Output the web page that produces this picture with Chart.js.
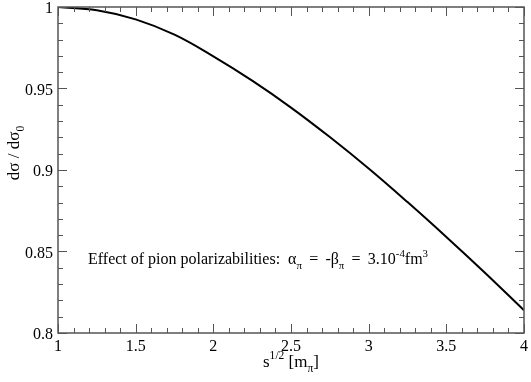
<!DOCTYPE html>
<html lang="en">
  <head>
    <meta charset="UTF-8" />
    <title>Pion polarizability effect</title>
    <script src="https://cdn.jsdelivr.net/npm/chart.js@4.4.0/dist/chart.umd.min.js"></script>
    <style>
      body { margin: 0; background: #fff; }
      .wrap { width: 531px; height: 382px; }
    </style>
  </head>
  <body>
    <div class="wrap"><canvas id="ratioChart"></canvas></div>

    <script>
      // values
      const sqrtS = [1, 1.25, 1.5, 1.75, 2, 2.25, 2.5, 2.75, 3, 3.25, 3.5, 3.75, 4];
      const ratio = [1, 0.998, 0.9924, 0.983, 0.9697, 0.9548, 0.9383, 0.9202, 0.9009, 0.8803, 0.8589, 0.8368, 0.8139];
      const xTicks = [1, 1.5, 2, 2.5, 3, 3.5, 4];
      const yTicks = [0.8, 0.85, 0.9, 0.95, 1];

      const serif = "'Liberation Serif', 'Times New Roman', serif";
      const axisColor = "#555";

      // text pieces with sub/superscripts, drawn left to right from (x, y)
      function richWidth(ctx, parts, size) {
        let w = 0;
        parts.forEach((p) => {
          ctx.font = (p.s ? size * 0.68 : size) + "px " + serif;
          w += ctx.measureText(p.t).width;
        });
        return w;
      }
      function drawRich(ctx, parts, x, y, size) {
        parts.forEach((p) => {
          const fs = p.s ? size * 0.68 : size;
          ctx.font = fs + "px " + serif;
          let dy = 0;
          if (p.s === "sub") dy = size * 0.3;
          if (p.s === "sup") dy = -size * 0.45;
          ctx.fillText(p.t, x, y + dy);
          x += ctx.measureText(p.t).width;
        });
      }

      const note = [
        { t: "Effect of pion polarizabilities:  α" },
        { t: "π", s: "sub" },
        { t: " \u2009=\u2009 -β" },
        { t: "π", s: "sub" },
        { t: " \u2009=\u2009 3.10" },
        { t: "-4", s: "sup" },
        { t: "fm" },
        { t: "3", s: "sup" },
      ];
      const xTitle = [{ t: "s" }, { t: "1/2", s: "sup" }, { t: " [m" }, { t: "π", s: "sub" }, { t: "]" }];
      const yTitle = [{ t: "dσ / dσ" }, { t: "0", s: "sub" }];

      const framePlugin = {
        id: "framePlugin",
        afterDraw(chart) {
          const { ctx, chartArea: a, scales } = chart;
          const sx = scales.x, sy = scales.y;
          ctx.save();
          ctx.strokeStyle = axisColor;
          ctx.lineWidth = 1.5;
          ctx.strokeRect(a.left, a.top, a.right - a.left, a.bottom - a.top);

          // inward ticks on all four sides, minor every 0.1 / 0.01
          ctx.lineWidth = 1;
          ctx.beginPath();
          for (let i = 0; i <= 30; i++) {
            const px = Math.round(sx.getPixelForValue(1 + i * 0.1)) + 0.5;
            const len = i % 5 === 0 ? 9 : 5;
            ctx.moveTo(px, a.bottom); ctx.lineTo(px, a.bottom - len);
            ctx.moveTo(px, a.top); ctx.lineTo(px, a.top + len);
          }
          for (let i = 0; i <= 20; i++) {
            const py = Math.round(sy.getPixelForValue(0.8 + i * 0.01)) + 0.5;
            const len = i % 5 === 0 ? 9 : 5;
            ctx.moveTo(a.left, py); ctx.lineTo(a.left + len, py);
            ctx.moveTo(a.right, py); ctx.lineTo(a.right - len, py);
          }
          ctx.stroke();

          ctx.fillStyle = "#000";
          ctx.textBaseline = "alphabetic";
          ctx.textAlign = "left";

          // annotation
          drawRich(ctx, note, 88, 264, 16);

          // x title
          const cx = (a.left + a.right) / 2;
          const w = richWidth(ctx, xTitle, 17);
          drawRich(ctx, xTitle, cx - w / 2, 367, 17);

          // y title, rotated
          const wy = richWidth(ctx, yTitle, 17);
          ctx.translate(19, 153);
          ctx.rotate(-Math.PI / 2);
          drawRich(ctx, yTitle, -wy / 2, 0, 17);
          ctx.restore();
        },
      };

      new Chart(document.getElementById("ratioChart"), {
        type: "line",
        data: {
          datasets: [
            {
              data: sqrtS.map((v, i) => ({ x: v, y: ratio[i] })),
              borderColor: "#000",
              borderWidth: 2,
              pointRadius: 0,
              tension: 0.4,
              fill: false,
            },
          ],
        },
        options: {
          responsive: true,
          maintainAspectRatio: false,
          animation: false,
          layout: { padding: { left: 0, top: 7, right: 7, bottom: 0 } },
          plugins: { legend: { display: false }, tooltip: { enabled: false } },
          scales: {
            x: {
              type: "linear",
              min: 1,
              max: 4,
              afterBuildTicks: (s) => { s.ticks = xTicks.map((v) => ({ value: v })); },
              afterFit: (s) => { s.height = 49; s.paddingLeft = 0; s.paddingRight = 0; },
              grid: { display: false, drawTicks: false },
              border: { display: false },
              ticks: {
                color: "#000",
                padding: 4,
                maxRotation: 0,
                font: { family: serif, size: 16 },
                callback: (v) => String(+v.toFixed(2)),
              },
            },
            y: {
              min: 0.8,
              max: 1,
              afterBuildTicks: (s) => { s.ticks = yTicks.map((v) => ({ value: v })); },
              afterFit: (s) => { s.width = 58; s.paddingTop = 0; s.paddingBottom = 0; },
              grid: { display: false, drawTicks: false },
              border: { display: false },
              ticks: {
                color: "#000",
                padding: 5,
                labelOffset: 2,
                font: { family: serif, size: 16 },
                callback: (v) => String(+v.toFixed(2)),
              },
            },
          },
        },
        plugins: [framePlugin],
      });
    </script>
  </body>
</html>
